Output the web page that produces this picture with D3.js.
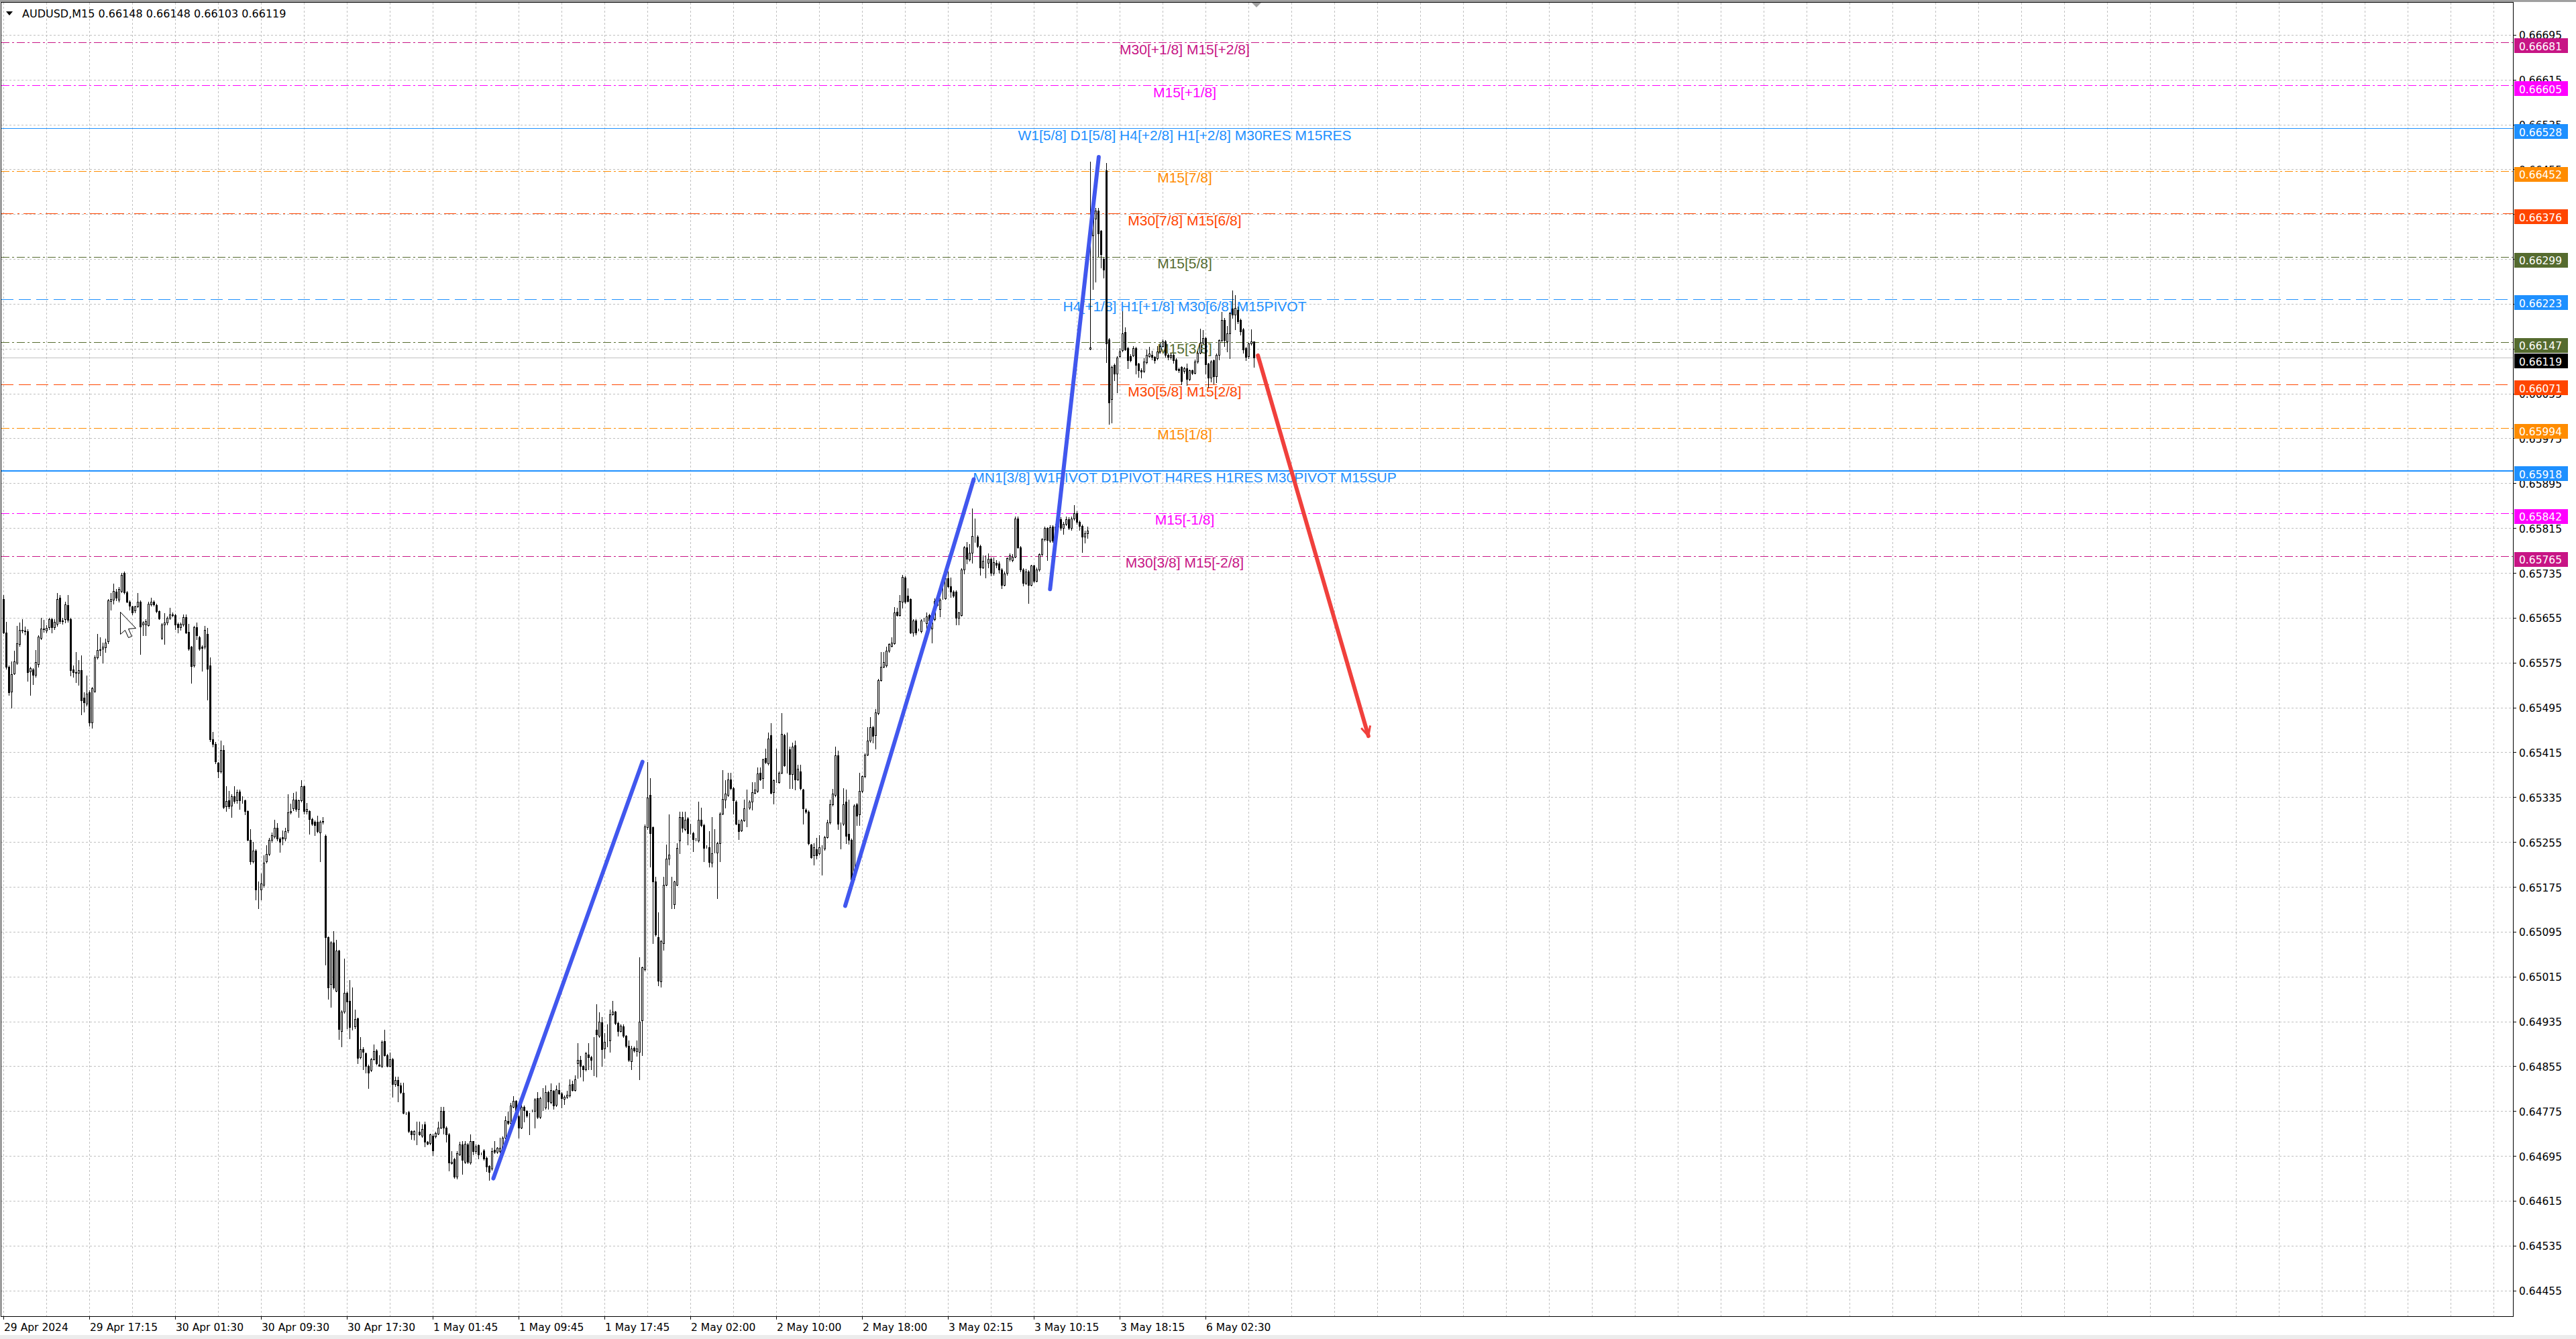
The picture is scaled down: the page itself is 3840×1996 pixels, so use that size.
<!DOCTYPE html>
<html lang="en">
<head>
<meta charset="utf-8">
<title>AUDUSD,M15</title>
<script src="https://d3js.org/d3.v7.min.js"></script>
<style>
  body { margin: 0; background: #fff; }
  svg { display: block; }
</style>
</head>
<body>
<script>
// ---- data (prices stored as points above 0.60000) ----
const pointBase = 0.6;
const headerText = "AUDUSD,M15  0.66148 0.66148 0.66103 0.66119";

const opens = [
5688,5629,5567,5523,5556,5575,5608,5633,5632,5631,
5559,5563,5553,5572,5619,5636,5632,5638,5652,5638,
5644,5691,5649,5652,5678,5652,5563,5558,5557,5562,
5512,5502,5522,5468,5525,5584,5599,5600,5602,5613,
5685,5687,5701,5687,5703,5735,5700,5684,5675,5668,
5675,5684,5643,5643,5642,5679,5683,5678,5667,5619,
5643,5646,5655,5661,5660,5644,5638,5643,5656,5630,
5603,5570,5638,5620,5604,5603,5626,5570,5438,5430,
5396,5381,5419,5319,5329,5320,5337,5329,5345,5329,
5329,5310,5259,5220,5240,5171,5170,5179,5220,5234,
5259,5265,5280,5261,5264,5261,5275,5308,5315,5331,
5314,5329,5354,5310,5310,5296,5291,5291,5272,5291,
5266,5085,5001,5076,4990,5061,4918,4952,4986,4971,
4927,4926,4940,4871,4886,4878,4856,4848,4868,4883,
4858,4855,4900,4875,4856,4868,4823,4830,4821,4808,
4771,4773,4739,4733,4736,4738,4731,4751,4720,4718,
4731,4730,4735,4746,4775,4746,4734,4682,4689,4658,
4698,4716,4684,4716,4683,4721,4703,4714,4699,4705,
4692,4677,4672,4706,4702,4703,4708,4728,4757,4754,
4783,4793,4766,4746,4783,4775,4765,4776,4775,4798,
4764,4798,4781,4809,4791,4811,4786,4812,4807,4797,
4800,4803,4823,4813,4860,4866,4855,4849,4876,4871,
4866,4920,4909,4933,4887,4898,4901,4948,4952,4932,
4918,4926,4909,4892,4864,4888,4882,4881,4937,5028,
5281,5339,5281,5184,5085,5006,5074,5179,5225,5184,
5144,5179,5257,5299,5278,5297,5271,5271,5260,5257,
5295,5285,5247,5246,5218,5238,5236,5253,5306,5330,
5339,5367,5351,5327,5288,5276,5294,5317,5316,5327,
5343,5346,5379,5369,5405,5395,5445,5344,5364,5362,
5379,5446,5397,5420,5376,5427,5367,5381,5348,5313,
5309,5250,5231,5242,5235,5247,5243,5264,5290,5322,
5339,5409,5288,5287,5327,5269,5259,5188,5322,5304,
5346,5372,5411,5436,5460,5446,5485,5544,5568,5570,
5596,5605,5610,5666,5660,5683,5727,5694,5688,5629,
5650,5634,5631,5651,5645,5660,5636,5652,5687,5671,
5690,5690,5725,5711,5702,5702,5655,5660,5741,5781,
5759,5771,5800,5800,5783,5745,5753,5753,5760,5735,
5753,5752,5741,5714,5735,5760,5758,5764,5832,5781,
5741,5717,5738,5714,5748,5721,5741,5768,5795,5815,
5792,5818,5793,5818,5831,5815,5822,5831,5815,5832,
5842,5826,5819,5800,5806,6135,6337,6367,6381,6345,
6295,6453,6152,6045,6106,6090,6122,6132,6165,6136,
6121,6123,6136,6108,6097,6095,6111,6122,6124,6120,
6118,6130,6140,6148,6124,6120,6124,6116,6099,6102,
6095,6100,6081,6096,6092,6112,6128,6146,6154,6108,
6083,6114,6086,6124,6150,6186,6148,6162,6207,6196,
6204,6186,6170,6136,6122,6144,6148];

const highs = [
5695,5648,5570,5577,5596,5640,5646,5653,5639,5635,
5568,5565,5597,5624,5655,5651,5642,5655,5655,5652,
5699,5695,5655,5684,5696,5655,5570,5594,5580,5588,
5522,5552,5526,5532,5588,5626,5620,5611,5618,5688,
5699,5716,5706,5710,5735,5738,5703,5686,5677,5677,
5699,5686,5649,5652,5684,5691,5686,5680,5668,5645,
5663,5657,5673,5664,5662,5646,5647,5661,5661,5644,
5605,5641,5646,5622,5606,5641,5637,5584,5451,5434,
5398,5436,5428,5355,5346,5340,5355,5349,5349,5336,
5331,5312,5278,5255,5242,5184,5199,5231,5249,5262,
5272,5295,5289,5264,5276,5280,5340,5323,5342,5345,
5331,5365,5356,5325,5312,5298,5293,5302,5293,5299,
5268,5087,5078,5096,5080,5063,4955,5047,4988,5009,
4995,4956,4942,4907,4889,4880,4858,4870,4894,4885,
4875,4901,4920,4877,4880,4870,4836,4836,4826,4826,
4773,4775,4741,4741,4756,4756,4751,4756,4722,4735,
4735,4738,4756,4782,4782,4748,4736,4704,4691,4704,
4720,4722,4722,4718,4733,4722,4716,4716,4701,4707,
4694,4679,4709,4722,4711,4728,4730,4766,4774,4790,
4802,4795,4768,4798,4785,4777,4772,4778,4798,4809,
4800,4816,4821,4811,4824,4813,4821,4826,4809,4803,
4811,4831,4829,4839,4896,4873,4857,4881,4896,4873,
4907,4966,4951,4943,4914,4930,4956,4971,4954,4934,
4930,4930,4911,4901,4891,4890,4901,5049,5033,5286,
5397,5369,5283,5193,5130,5080,5193,5250,5304,5193,
5186,5253,5309,5309,5309,5299,5287,5273,5262,5327,
5316,5287,5249,5274,5299,5278,5255,5308,5383,5365,
5379,5379,5353,5329,5295,5296,5330,5348,5329,5362,
5362,5388,5388,5404,5422,5450,5467,5367,5422,5381,
5485,5448,5450,5425,5432,5436,5393,5393,5350,5315,
5311,5252,5253,5262,5267,5249,5266,5295,5330,5350,
5425,5418,5290,5351,5348,5330,5261,5322,5325,5379,
5374,5413,5460,5478,5462,5492,5546,5594,5594,5603,
5610,5620,5674,5673,5695,5732,5729,5708,5690,5652,
5653,5636,5652,5655,5664,5662,5648,5690,5689,5689,
5713,5738,5738,5727,5704,5704,5666,5743,5783,5790,
5787,5850,5832,5802,5785,5766,5766,5770,5763,5762,
5758,5755,5743,5738,5763,5770,5768,5836,5835,5783,
5743,5742,5740,5750,5750,5745,5770,5797,5818,5817,
5820,5820,5822,5838,5834,5826,5836,5834,5835,5856,
5845,5828,5821,5810,5818,6469,6386,6386,6386,6347,
6297,6466,6154,6105,6108,6121,6136,6202,6173,6138,
6125,6140,6138,6110,6100,6118,6133,6138,6131,6122,
6140,6145,6151,6150,6126,6128,6126,6118,6101,6104,
6103,6108,6098,6098,6115,6131,6171,6168,6156,6110,
6114,6116,6126,6152,6200,6190,6175,6200,6239,6231,
6210,6188,6172,6138,6146,6170,6148];

const lows = [
5627,5564,5517,5494,5554,5572,5605,5628,5625,5542,
5517,5536,5550,5568,5616,5630,5628,5635,5629,5635,
5640,5645,5644,5647,5648,5552,5549,5540,5535,5483,
5487,5498,5462,5459,5522,5582,5588,5575,5594,5610,
5669,5680,5686,5684,5700,5698,5682,5669,5661,5664,
5674,5590,5624,5624,5640,5677,5676,5665,5652,5617,
5608,5643,5653,5657,5635,5629,5633,5640,5627,5598,
5539,5568,5616,5598,5560,5600,5509,5435,5425,5395,
5370,5378,5315,5310,5315,5299,5325,5325,5314,5325,
5304,5257,5216,5218,5152,5137,5152,5175,5218,5231,
5255,5262,5257,5237,5250,5258,5272,5306,5312,5310,
5299,5327,5306,5306,5270,5285,5267,5272,5220,5288,
5036,4975,4961,4993,4988,4903,4890,4950,4922,4904,
4920,4922,4860,4869,4849,4844,4816,4846,4866,4858,
4855,4853,4873,4854,4854,4800,4820,4792,4807,4770,
4769,4737,4725,4724,4715,4732,4729,4712,4715,4716,
4696,4728,4733,4744,4735,4720,4669,4681,4656,4655,
4696,4663,4682,4682,4681,4698,4700,4690,4697,4688,
4668,4652,4670,4700,4700,4701,4706,4726,4752,4752,
4781,4764,4728,4744,4756,4765,4734,4774,4746,4762,
4762,4777,4779,4779,4789,4779,4784,4805,4781,4787,
4798,4801,4811,4811,4834,4836,4829,4847,4849,4849,
4839,4836,4907,4855,4870,4890,4881,4946,4930,4909,
4916,4907,4889,4864,4849,4881,4873,4831,4875,5026,
5278,5211,5074,5088,4999,4997,5063,5177,5214,5137,
5137,5177,5235,5273,5276,5250,5269,5238,5258,5255,
5283,5221,5245,5211,5211,5236,5155,5221,5304,5316,
5337,5349,5306,5286,5260,5274,5292,5283,5314,5313,
5341,5344,5365,5351,5395,5393,5341,5323,5362,5360,
5377,5390,5379,5351,5351,5348,5365,5349,5287,5307,
5251,5226,5214,5225,5233,5197,5241,5262,5288,5320,
5337,5278,5243,5285,5253,5252,5186,5186,5285,5285,
5344,5370,5409,5434,5432,5422,5483,5542,5566,5568,
5594,5603,5608,5658,5658,5673,5681,5683,5627,5622,
5625,5632,5629,5649,5622,5648,5611,5650,5676,5657,
5688,5688,5709,5692,5692,5643,5643,5658,5734,5752,
5757,5753,5790,5781,5731,5743,5727,5745,5730,5732,
5745,5735,5708,5712,5732,5757,5755,5762,5779,5738,
5712,5715,5681,5712,5718,5719,5739,5766,5793,5758,
5790,5790,5791,5815,5812,5805,5820,5813,5812,5830,
5823,5812,5772,5789,5797,6133,6241,6254,6300,6280,
6262,6111,6001,6003,6078,6057,6120,6130,6132,6100,
6112,6121,6090,6085,6083,6093,6109,6120,6116,6110,
6115,6128,6138,6120,6116,6117,6110,6096,6093,6071,
6092,6070,6078,6089,6090,6110,6126,6144,6091,6066,
6076,6072,6075,6115,6148,6140,6130,6118,6190,6170,
6180,6160,6127,6114,6118,6142,6103];

const closes = [
5629,5567,5522,5554,5577,5609,5633,5632,5631,5558,
5565,5553,5576,5621,5636,5634,5637,5652,5638,5648,
5688,5649,5650,5679,5651,5562,5558,5557,5561,5508,
5504,5520,5468,5529,5584,5597,5598,5603,5611,5686,
5688,5703,5691,5706,5732,5700,5684,5677,5664,5675,
5684,5639,5646,5649,5680,5683,5679,5667,5654,5643,
5646,5655,5661,5660,5643,5638,5644,5656,5629,5600,
5569,5638,5624,5600,5601,5633,5564,5438,5430,5399,
5381,5419,5317,5328,5319,5336,5328,5344,5329,5329,
5310,5259,5220,5240,5170,5171,5181,5218,5234,5259,
5267,5280,5261,5255,5261,5274,5308,5310,5331,5314,
5329,5354,5310,5314,5296,5287,5285,5274,5291,5292,
5085,4995,5076,4996,5061,4921,4952,4986,4970,4925,
4927,4939,4870,4886,4881,4856,4843,4868,4882,4860,
4856,4899,4875,4856,4867,4823,4830,4821,4809,4772,
4771,4739,4733,4739,4736,4734,4743,4720,4717,4734,
4705,4736,4746,4775,4746,4733,4683,4684,4658,4700,
4715,4688,4717,4684,4721,4703,4712,4698,4699,4690,
4676,4667,4703,4702,4709,4709,4728,4759,4754,4785,
4793,4766,4746,4783,4777,4767,4765,4776,4796,4764,
4798,4798,4809,4792,4812,4785,4814,4807,4798,4801,
4804,4822,4813,4831,4866,4855,4849,4878,4871,4866,
4866,4912,4934,4886,4898,4898,4948,4953,4932,4918,
4927,4909,4891,4866,4887,4883,4887,4935,5031,5283,
5334,5271,5184,5090,5007,5078,5179,5225,5233,5184,
5184,5244,5299,5280,5295,5271,5271,5260,5260,5295,
5285,5245,5247,5219,5235,5238,5253,5306,5332,5341,
5367,5351,5329,5288,5274,5294,5315,5318,5327,5344,
5348,5377,5367,5402,5397,5439,5343,5365,5364,5379,
5448,5392,5397,5376,5425,5367,5386,5351,5315,5309,
5253,5228,5246,5231,5246,5247,5264,5290,5322,5341,
5409,5288,5288,5322,5266,5259,5188,5320,5302,5346,
5372,5411,5436,5460,5444,5486,5544,5568,5576,5596,
5608,5611,5664,5660,5685,5728,5683,5685,5629,5650,
5629,5634,5650,5651,5657,5650,5646,5685,5678,5687,
5690,5725,5711,5701,5694,5655,5664,5741,5781,5760,
5771,5801,5800,5783,5745,5757,5753,5760,5735,5754,
5750,5741,5714,5734,5761,5766,5764,5832,5781,5741,
5717,5738,5714,5748,5721,5741,5768,5795,5815,5794,
5816,5793,5818,5832,5815,5822,5831,5815,5832,5842,
5826,5819,5800,5806,5810,6137,6378,6381,6340,6304,
6276,6144,6039,6102,6090,6119,6130,6162,6134,6114,
6114,6136,6106,6096,6094,6112,6124,6126,6120,6114,
6130,6140,6148,6124,6120,6124,6114,6098,6096,6077,
6100,6081,6096,6092,6112,6128,6146,6154,6107,6083,
6112,6086,6124,6150,6186,6150,6162,6198,6196,6208,
6184,6166,6134,6120,6144,6148,6119];

const priceTicks = [0.66695,0.66615,0.66535,0.66455,0.66375,0.66295,0.66215,0.66135,0.66055,0.65975,
  0.65895,0.65815,0.65735,0.65655,0.65575,0.65495,0.65415,0.65335,0.65255,0.65175,0.65095,0.65015,
  0.64935,0.64855,0.64775,0.64695,0.64615,0.64535,0.64455];

const timeLabels = ["29 Apr 2024","29 Apr 17:15","30 Apr 01:30","30 Apr 09:30","30 Apr 17:30",
  "1 May 01:45","1 May 09:45","1 May 17:45","2 May 02:00","2 May 10:00","2 May 18:00",
  "3 May 02:15","3 May 10:15","3 May 18:15","6 May 02:30"];
const timeLabelBars = [0,32,64,96,128,160,192,224,256,288,320,352,384,416,448];

// Murrey math levels
const levelPrices = [0.66681,0.66605,0.66528,0.66452,0.66376,0.66299,0.66223,0.66147,0.66071,0.65994,0.65918,0.65842,0.65765];
const levelTexts = ["M30[+1/8] M15[+2/8]","M15[+1/8]","W1[5/8] D1[5/8] H4[+2/8] H1[+2/8] M30RES M15RES",
  "M15[7/8]","M30[7/8] M15[6/8]","M15[5/8]","H4[+1/8] H1[+1/8] M30[6/8] M15PIVOT","M15[3/8]",
  "M30[5/8] M15[2/8]","M15[1/8]","MN1[3/8] W1PIVOT D1PIVOT H4RES H1RES M30PIVOT M15SUP","M15[-1/8]","M30[3/8] M15[-2/8]"];
const levelColors = ["#C71585","#FF00FF","#1E90FF","#FF8C00","#FF4500","#556B2F","#1E90FF","#556B2F",
  "#FF4500","#FF8C00","#1E90FF","#FF00FF","#C71585"];
const levelStyles = ["dashdot","dashdot","solid","dashdot","dashdot2","dashdot","dash","dashdot",
  "dash","dashdot","solid2","dashdot","dashdot"];

// hand drawn lines: [bar1, price1, bar2, price2]
const blueLines = [[182.5,0.64655,238.05,0.65398],[313.6,0.65141,361.5,0.65902],[389.95,0.65706,408.1,0.66477]];
const redArrow = [467.4,0.66123,508.6,0.65444];

// ---- layout ----
const W = 3840, H = 1996;
const plotLeft = 2, plotRight = 3746, plotTop = 4, plotBottom = 1962;
const levelLabelX = 1766;
const px = v => pointBase + v / 1e5;

const x = d3.scaleLinear().domain([0, 466]).range([5.5, 5.5 + 4 * 466]);
const y = d3.scaleLinear().domain([0.64455, 0.66695]).range([1923.7, 51.8]);
const ry = p => Math.round(y(p)) + 0.5;

const svg = d3.select("body").append("svg")
  .attr("width", W).attr("height", H)
  .style("font-family", "'DejaVu Sans', Verdana, sans-serif");

svg.append("rect").attr("width", W).attr("height", H).attr("fill", "#fff");
svg.append("rect").attr("width", W).attr("height", 3).attr("fill", "#a0a0a0");
svg.append("rect").attr("y", 1990).attr("width", W).attr("height", 6).attr("fill", "#ececec");

svg.append("defs").append("clipPath").attr("id", "plot")
  .append("rect").attr("x", plotLeft).attr("y", plotTop)
  .attr("width", plotRight - plotLeft).attr("height", plotBottom - plotTop);

const plot = svg.append("g").attr("clip-path", "url(#plot)");

// grid
const vGrid = d3.range(5.5, plotRight, 64);
plot.append("g").selectAll("line").data(vGrid).join("line")
  .attr("x1", d => d).attr("x2", d => d).attr("y1", plotTop).attr("y2", plotBottom)
  .attr("stroke", "#c0c0c0").attr("stroke-dasharray", "3,3").attr("shape-rendering", "crispEdges");
plot.append("g").selectAll("line").data(priceTicks).join("line")
  .attr("x1", plotLeft).attr("x2", plotRight).attr("y1", d => ry(d)).attr("y2", d => ry(d))
  .attr("stroke", "#c0c0c0").attr("stroke-dasharray", "3,3").attr("shape-rendering", "crispEdges");

// level lines
const dashes = { solid: null, solid2: null, dashdot: "12,4,3,4", dashdot2: "18,6,3,6", dash: "18,8" };
plot.append("g").selectAll("line").data(levelPrices).join("line")
  .attr("x1", plotLeft).attr("x2", plotRight)
  .attr("y1", d => ry(d)).attr("y2", d => ry(d))
  .attr("stroke", (d, i) => levelColors[i])
  .attr("stroke-width", (d, i) => levelStyles[i] === "solid2" ? 2 : 1)
  .attr("stroke-dasharray", (d, i) => dashes[levelStyles[i]])
  .attr("shape-rendering", "crispEdges");

// current price line
const lastClose = px(closes[closes.length - 1]);
plot.append("line").attr("x1", plotLeft).attr("x2", plotRight)
  .attr("y1", ry(lastClose)).attr("y2", ry(lastClose))
  .attr("stroke", "#c0c0c0").attr("shape-rendering", "crispEdges");

// level texts
plot.append("g").selectAll("text").data(levelPrices).join("text")
  .attr("x", levelLabelX).attr("y", d => y(d) + 17.5)
  .attr("text-anchor", "middle")
  .attr("font-family", "'Liberation Sans', Arial, sans-serif").attr("font-size", 21)
  .attr("fill", (d, i) => levelColors[i])
  .text((d, i) => levelTexts[i]);

// candles
const idx = d3.range(closes.length);
const candles = plot.append("g").attr("shape-rendering", "crispEdges");
candles.selectAll("line").data(idx).join("line")
  .attr("x1", i => x(i)).attr("x2", i => x(i))
  .attr("y1", i => Math.round(y(px(highs[i]))))
  .attr("y2", i => Math.round(y(px(lows[i]))) + 1)
  .attr("stroke", "#000");
candles.selectAll("rect").data(idx).join("rect")
  .attr("x", i => x(i) - 1)
  .attr("y", i => ry(px(Math.max(opens[i], closes[i]))))
  .attr("width", 2)
  .attr("height", i => Math.round(y(px(Math.min(opens[i], closes[i])))) - Math.round(y(px(Math.max(opens[i], closes[i])))))
  .attr("fill", i => closes[i] >= opens[i] ? "#fff" : "#000")
  .attr("stroke", "#000");

// trend lines
plot.append("g").selectAll("line").data(blueLines).join("line")
  .attr("x1", d => x(d[0])).attr("y1", d => y(d[1]))
  .attr("x2", d => x(d[2])).attr("y2", d => y(d[3]))
  .attr("stroke", "#4157EE").attr("stroke-width", 6).attr("stroke-linecap", "round");

const ax1 = x(redArrow[0]), ay1 = y(redArrow[1]), ax2 = x(redArrow[2]), ay2 = y(redArrow[3]);
plot.append("line").attr("x1", ax1).attr("y1", ay1).attr("x2", ax2).attr("y2", ay2)
  .attr("stroke", "#F0403C").attr("stroke-width", 6).attr("stroke-linecap", "round");
const ang = Math.atan2(ay2 - ay1, ax2 - ax1);
const head = [ang + Math.PI - 0.45, ang + Math.PI + 0.45].map(a => [ax2 + 16 * Math.cos(a), ay2 + 16 * Math.sin(a)]);
plot.append("path")
  .attr("d", `M${head[0][0]},${head[0][1]}L${ax2},${ay2}L${head[1][0]},${head[1][1]}`)
  .attr("fill", "none").attr("stroke", "#F0403C").attr("stroke-width", 3).attr("stroke-linejoin", "round");

// mouse pointer left on the chart
plot.append("path").attr("d", "M179.5,912.5L179.5,945.5L186.5,939.5L191.5,950.5L196.5,948.5L191.5,937.5L202.5,936.5Z")
  .attr("fill", "#fff").attr("stroke", "#000");

// frame
svg.append("rect").attr("x", plotLeft - 0.5).attr("y", plotTop - 0.5)
  .attr("width", plotRight - plotLeft + 1).attr("height", plotBottom - plotTop + 1)
  .attr("fill", "none").attr("stroke", "#000").attr("shape-rendering", "crispEdges");

// shift marker
svg.append("path").attr("d", "M1866,4L1880,4L1873,11Z").attr("fill", "#a0a0a0");

// header
svg.append("path").attr("d", "M9,17L19,17L14,23Z").attr("fill", "#000");
svg.append("text").attr("x", 33).attr("y", 25.5).attr("font-size", 16).attr("fill", "#000").text(headerText);

// price axis
const fmt = d3.format(".5f");
const yAxis = svg.append("g");
yAxis.selectAll("line").data(priceTicks).join("line")
  .attr("x1", plotRight).attr("x2", plotRight + 5).attr("y1", d => ry(d)).attr("y2", d => ry(d))
  .attr("stroke", "#000").attr("shape-rendering", "crispEdges");
yAxis.selectAll("text").data(priceTicks).join("text")
  .attr("x", 3755).attr("y", d => y(d) + 6.5).attr("font-size", 15.5).attr("fill", "#000")
  .text(d => fmt(d));

// price boxes for levels and last price
const boxPrices = levelPrices.concat([lastClose]);
const boxColors = levelColors.concat(["#000"]);
const boxes = svg.append("g").selectAll("g").data(boxPrices).join("g");
boxes.append("rect").attr("x", 3748).attr("y", d => Math.round(y(d)) - 6)
  .attr("width", 80).attr("height", 22).attr("fill", (d, i) => boxColors[i]);
boxes.append("text").attr("x", 3755).attr("y", d => y(d) + 11.5)
  .attr("font-size", 15.5).attr("fill", "#fff").text(d => fmt(d));

// time axis
const xAxis = svg.append("g");
xAxis.selectAll("line").data(timeLabelBars).join("line")
  .attr("x1", d => x(d)).attr("x2", d => x(d)).attr("y1", plotBottom).attr("y2", plotBottom + 5)
  .attr("stroke", "#000").attr("shape-rendering", "crispEdges");
xAxis.selectAll("text").data(timeLabelBars).join("text")
  .attr("x", d => x(d) + 0.5).attr("y", 1984).attr("font-size", 15.5).attr("fill", "#000")
  .text((d, i) => timeLabels[i]);
</script>
</body>
</html>
